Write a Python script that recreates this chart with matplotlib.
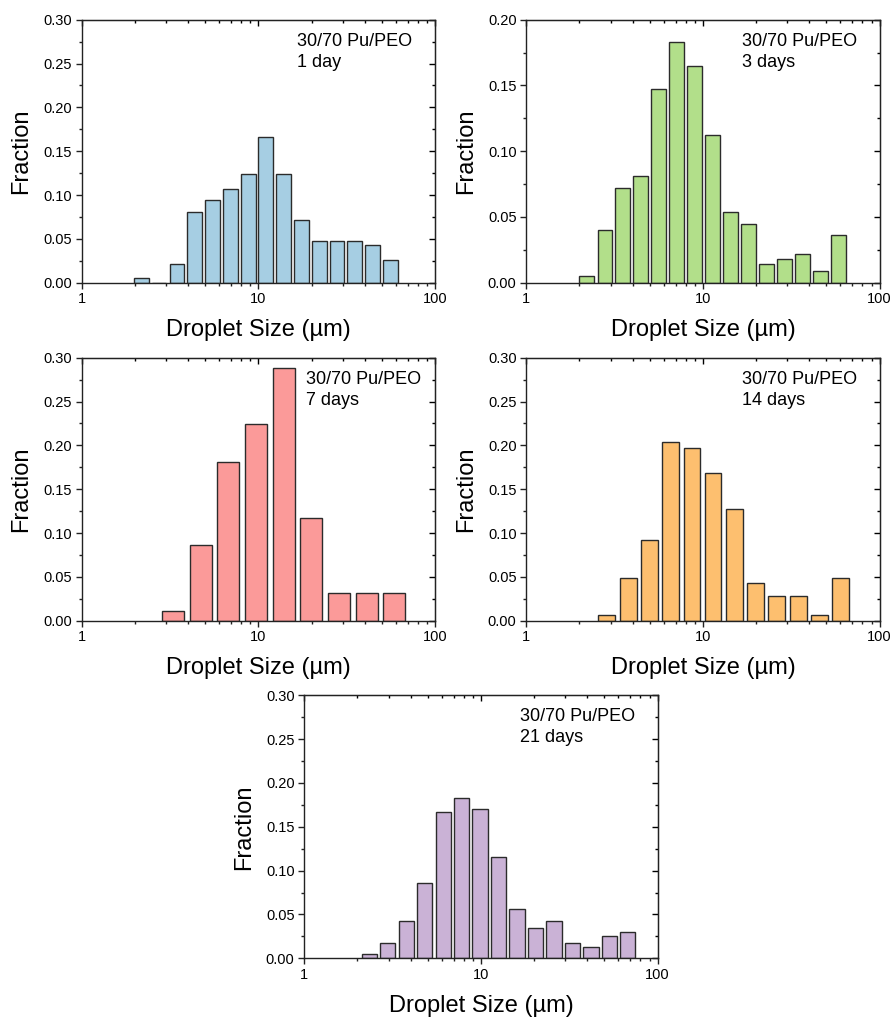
import numpy as np
import matplotlib
matplotlib.use('Agg')
import matplotlib.pyplot as plt
from matplotlib.ticker import MultipleLocator, FixedLocator, NullFormatter, FormatStrFormatter

plt.rcParams['font.family'] = ['Liberation Sans', 'DejaVu Sans']

# bin centres (um) and fractions
size_1d = [2.18, 2.74, 3.46, 4.36, 5.50, 6.94, 8.75, 11.0, 13.9, 17.6, 22.2, 27.9, 35.2, 44.5, 56.1]
frac_1d = [0.005, 0.0, 0.021, 0.081, 0.094, 0.107, 0.124, 0.166, 0.124, 0.072, 0.047, 0.047, 0.047, 0.043, 0.026]

size_3d = [2.20, 2.79, 3.52, 4.45, 5.62, 7.11, 8.98, 11.35, 14.35, 18.1, 22.9, 29.0, 36.6, 46.2, 58.5]
frac_3d = [0.005, 0.040, 0.072, 0.081, 0.147, 0.183, 0.165, 0.112, 0.054, 0.045, 0.014, 0.018, 0.022, 0.009, 0.036]

size_7d = [3.30, 4.73, 6.76, 9.72, 13.9, 19.95, 28.6, 41.0, 58.9]
frac_7d = [0.011, 0.086, 0.181, 0.224, 0.288, 0.117, 0.032, 0.032, 0.032]

size_14d = [2.86, 3.78, 4.99, 6.57, 8.67, 11.4, 15.1, 19.9, 26.2, 34.6, 45.6, 60.1]
frac_14d = [0.007, 0.049, 0.092, 0.204, 0.197, 0.169, 0.127, 0.043, 0.028, 0.028, 0.007, 0.049]

size_21d = [2.33, 2.97, 3.77, 4.81, 6.11, 7.78, 9.87, 12.6, 16.0, 20.4, 25.9, 33.0, 42.0, 53.5, 67.9]
frac_21d = [0.005, 0.018, 0.043, 0.086, 0.167, 0.183, 0.170, 0.115, 0.056, 0.034, 0.043, 0.017, 0.013, 0.026, 0.030]

labels = ['1 day', '3 days', '7 days', '14 days', '21 days']
colors = ['#a6cee3', '#b2df8a', '#fb9a99', '#fdbf6f', '#cab2d6']


def panel(fig, rect, sizes, fracs, color, label, ymax, logwidth, textx=0.61):
    ax = fig.add_axes(rect)
    c = np.array(sizes)
    left = c * 10 ** (-logwidth / 2)
    width = c * 10 ** (logwidth / 2) - left
    ax.bar(left, fracs, width=width, align='edge', color=color,
           edgecolor='#2b2b2b', linewidth=1.0, zorder=2)
    ax.set_xscale('log')
    ax.set_xlim(1, 100)
    ax.set_ylim(0, ymax)

    ax.xaxis.set_major_locator(FixedLocator([1, 10, 100]))
    ax.xaxis.set_major_formatter(FormatStrFormatter('%g'))
    minors = [m * d for d in (1, 10) for m in range(2, 10)]
    ax.xaxis.set_minor_locator(FixedLocator(minors))
    ax.xaxis.set_minor_formatter(NullFormatter())
    ax.yaxis.set_major_locator(MultipleLocator(0.05))
    ax.yaxis.set_minor_locator(MultipleLocator(0.025))
    ax.yaxis.set_major_formatter(FormatStrFormatter('%.2f'))

    ax.tick_params(which='major', direction='out', length=4, width=1,
                   labelsize=10.5, pad=3, color='#222222')
    ax.tick_params(which='minor', direction='out', length=2.5, width=1, color='#222222')
    for s in ax.spines.values():
        s.set_linewidth(1.0)
        s.set_color('#222222')

    # inward ticks on top and right, no labels
    top = ax.secondary_xaxis('top')
    top.xaxis.set_major_locator(FixedLocator([1, 10, 100]))
    top.xaxis.set_minor_locator(FixedLocator(minors))
    top.tick_params(which='major', direction='in', length=4, width=1, labeltop=False)
    top.tick_params(which='minor', direction='in', length=2.5, width=1)
    right = ax.secondary_yaxis('right')
    right.yaxis.set_major_locator(MultipleLocator(0.05))
    right.yaxis.set_minor_locator(MultipleLocator(0.025))
    right.tick_params(which='major', direction='in', length=4, width=1, labelright=False)
    right.tick_params(which='minor', direction='in', length=2.5, width=1)

    ax.set_xlabel('Droplet Size (µm)', fontsize=17, labelpad=9)
    ax.set_ylabel('Fraction', fontsize=17, labelpad=8)
    ax.text(textx, 0.95, '30/70 Pu/PEO\n' + label, transform=ax.transAxes,
            fontsize=13, va='top', ha='left', linespacing=1.3)
    return ax


fig = plt.figure(figsize=(8.94, 10.18), dpi=100)
W, H = 894, 1018
w, h = 353.3 / W, 263 / H

panel(fig, [81.7 / W, 1 - 282.7 / H, w, h], size_1d, frac_1d, colors[0], labels[0], 0.30, 0.084)
panel(fig, [526.3 / W, 1 - 282.7 / H, w, h], size_3d, frac_3d, colors[1], labels[1], 0.20, 0.084)
panel(fig, [81.7 / W, 1 - 620.7 / H, w, h], size_7d, frac_7d, colors[2], labels[2], 0.30, 0.125, textx=0.635)
panel(fig, [526.3 / W, 1 - 620.7 / H, w, h], size_14d, frac_14d, colors[3], labels[3], 0.30, 0.096)
panel(fig, [304.3 / W, 1 - 958.3 / H, w, h], size_21d, frac_21d, colors[4], labels[4], 0.30, 0.086)

fig.savefig('out.png', dpi=100)
